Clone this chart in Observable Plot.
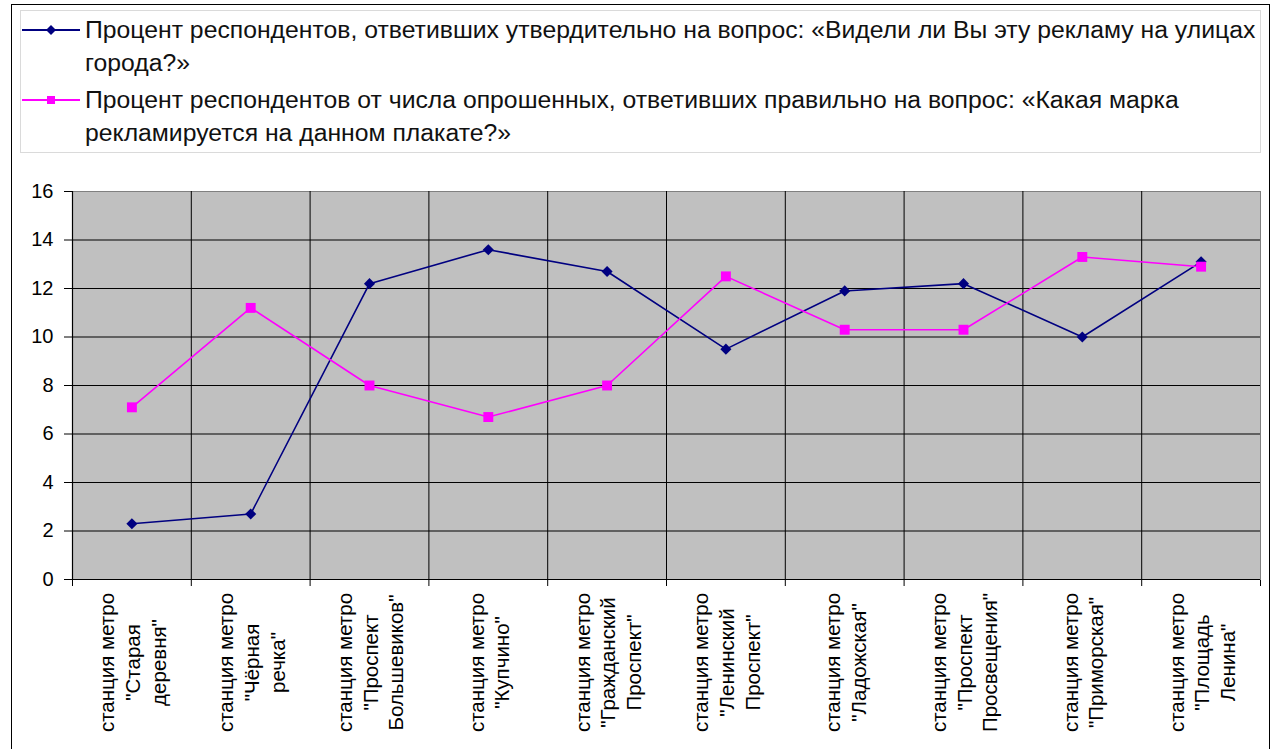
<!DOCTYPE html>
<html><head><meta charset="utf-8">
<script src="https://cdn.jsdelivr.net/npm/d3@7"></script>
<script src="https://cdn.jsdelivr.net/npm/@observablehq/plot@0.6"></script>
<style>
body{margin:0;background:#fff;font-family:"Liberation Sans",Arial,sans-serif;}
#wrap{position:relative;width:1276px;height:749px;overflow:hidden;}
#frame{position:absolute;left:11px;top:4px;width:1259px;height:770px;border:1.5px solid #000;box-sizing:border-box;pointer-events:none;}
#legend{position:relative;height:155px;}
#lbox{position:absolute;left:20px;top:10px;width:1241px;height:143px;border:1px solid #dadada;box-sizing:border-box;}
.item{position:absolute;left:85px;font-size:24.75px;line-height:33px;color:#111;white-space:nowrap;}
.sym{position:absolute;left:22px;}
#chart svg{display:block;}
</style>
</head><body>
<div id="wrap">
  <div id="legend">
    <div id="lbox"></div>
    <svg class="sym" style="top:22px" width="60" height="16"><line x1="0" y1="8" x2="58" y2="8" stroke="#000080" stroke-width="2"/><path d="M29,3 L34,8 L29,13 L24,8Z" fill="#000080"/></svg>
    <div class="item" id="l1" style="top:13px"></div>
    <svg class="sym" style="top:92px" width="60" height="16"><line x1="0" y1="8" x2="58" y2="8" stroke="#ff00ff" stroke-width="2"/><rect x="25" y="4" width="8" height="8" fill="#ff00ff"/></svg>
    <div class="item" id="l2" style="top:83px"></div>
  </div>
  <div id="chart"></div>
  <div id="frame"></div>
</div>
<script>
const stations = [
  "станция метро\n\"Старая\nдеревня\"",
  "станция метро\n\"Чёрная\nречка\"",
  "станция метро\n\"Проспект\nБольшевиков\"",
  "станция метро\n\"Купчино\"",
  "станция метро\n\"Гражданский\nПроспект\"",
  "станция метро\n\"Ленинский\nПроспект\"",
  "станция метро\n\"Ладожская\"",
  "станция метро\n\"Проспект\nПросвещения\"",
  "станция метро\n\"Приморская\"",
  "станция метро\n\"Площадь\nЛенина\""
];
const seenPct    = [2.3, 2.7, 12.2, 13.6, 12.7, 9.5, 11.9, 12.2, 10.0, 13.1];
const correctPct = [7.1, 11.2, 8.0, 6.7, 8.0, 12.5, 10.3, 10.3, 13.3, 12.9];
const yTicks = [0, 2, 4, 6, 8, 10, 12, 14, 16];
const legendLines1 = ["Процент респондентов, ответивших утвердительно на вопрос: «Видели ли Вы эту рекламу на улицах", "города?»"];
const legendLines2 = ["Процент респондентов от числа опрошенных, ответивших правильно на вопрос: «Какая марка", "рекламируется на данном плакате?»"];

document.getElementById("l1").innerHTML = legendLines1.join("<br>");
document.getElementById("l2").innerHTML = legendLines2.join("<br>");

const rows = stations.map((s, i) => ({pos: i + 0.5, station: s, seen: seenPct[i], correct: correctPct[i]}));
const bounds = d3.range(0, stations.length + 1);

const chart = Plot.plot({
  width: 1276, height: 594,
  marginTop: 36, marginBottom: 170, marginLeft: 72, marginRight: 16,
  style: {fontFamily: "'Liberation Sans', Arial, sans-serif", fontSize: "20px", color: "#000", background: "transparent"},
  x: {domain: [0, stations.length], ticks: bounds, tickFormat: () => "", tickSize: 7, label: null},
  y: {domain: [0, 16], ticks: yTicks, tickSize: 8, tickPadding: 11, label: null},
  marks: [
    Plot.frame({fill: "#c0c0c0", stroke: "#808080"}),
    Plot.ruleY(yTicks.slice(1, -1), {stroke: "#000", strokeWidth: 1}),
    Plot.ruleX(bounds.slice(1, -1), {stroke: "#000", strokeWidth: 1}),
    Plot.ruleY([0], {stroke: "#000", strokeWidth: 1.2}),
    Plot.ruleX([0], {stroke: "#000", strokeWidth: 1.2}),
    Plot.line(rows, {x: "pos", y: "seen", stroke: "#000080", strokeWidth: 1.6}),
    Plot.dot(rows, {x: "pos", y: "seen", symbol: "diamond2", fill: "#000080", r: 5}),
    Plot.line(rows, {x: "pos", y: "correct", stroke: "#ff00ff", strokeWidth: 1.6}),
    Plot.dot(rows, {x: "pos", y: "correct", symbol: "square", fill: "#ff00ff", r: 5.6}),
    Plot.text(rows, {x: "pos", text: "station", frameAnchor: "bottom", rotate: -90, textAnchor: "middle", lineAnchor: "middle", dy: 83, fontSize: 20.5, lineHeight: 1.25, fill: "#000"})
  ]
});
document.getElementById("chart").appendChild(chart);
</script>
</body></html>
